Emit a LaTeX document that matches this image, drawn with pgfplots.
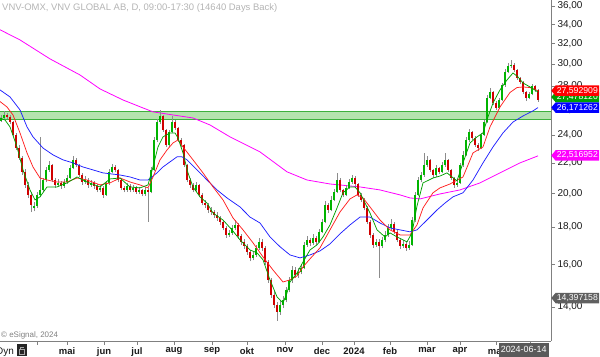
\documentclass[border=0pt]{standalone}
\usepackage{fontspec}
\setmainfont{Liberation Sans}
\usepackage{pgfplots}
\pgfplotsset{compat=1.18}
\usetikzlibrary{shapes.symbols}

\definecolor{cup}{HTML}{00B400}
\definecolor{cdown}{HTML}{D00000}
\definecolor{wick}{HTML}{8C8C8C}
\definecolor{magr}{HTML}{00A000}
\definecolor{mared}{HTML}{FF2020}
\definecolor{mablue}{HTML}{2020FF}
\definecolor{mamag}{HTML}{FF00FF}
\definecolor{bandfill}{HTML}{B5E3AE}
\definecolor{bandline}{HTML}{3DB03D}
\definecolor{axgray}{HTML}{808080}
\definecolor{tickcol}{HTML}{1A1A1A}
\definecolor{titlegray}{HTML}{B4B4B4}
\definecolor{datebox}{HTML}{5A5A5A}
\definecolor{tagred}{HTML}{FF0000}
\definecolor{tagblue}{HTML}{0000FF}
\definecolor{tagmag}{HTML}{FF00FF}
\definecolor{taggray}{HTML}{606060}
\definecolor{taggreen}{HTML}{00A000}

% x (chart position) / open / high / low / close
\def\candledata{%
1/25.10/25.55/25.00/25.33,4/25.33/25.85/25.20/25.57,7/25.57/25.70/25.25/25.41,10/25.41/25.55/24.85/25.01,
13/25.01/25.10/23.90/24.02,16/24.02/24.15/22.90/23.05,19/23.05/23.30/22.20/22.35,22/22.35/22.50/21.20/21.39,
25/21.39/21.60/20.35/20.53,28/20.53/20.70/19.70/19.90,31/19.90/20.05/18.85/19.28,34/19.10/19.45/18.90/19.22,
37/19.22/20.10/19.10/19.90,40/19.90/23.85/19.75/20.21,43/20.21/21.00/20.05/20.85,46/20.85/21.70/20.70/21.52,
49/21.52/22.15/21.40/21.86,52/21.86/21.95/20.70/20.85,55/20.85/21.00/20.35/20.53,58/20.53/20.90/20.40/20.66,
61/20.66/20.80/20.30/20.47,64/20.47/20.90/20.35/20.72,67/20.72/21.15/20.60/20.98,70/20.98/21.85/20.90/21.66,
73/21.66/22.45/21.55/22.21,76/22.21/22.35/21.70/21.86,79/21.86/21.95/21.05/21.18,82/21.18/21.30/20.55/20.72,
85/20.72/21.10/20.60/20.85,88/20.85/20.95/20.35/20.53,91/20.53/20.85/20.40/20.66,94/20.66/20.80/20.30/20.47,
97/20.47/20.60/20.05/20.21,100/20.21/20.55/20.05/20.34,103/20.34/20.45/19.70/19.90,106/19.90/20.80/19.85/20.66,
109/20.66/21.55/20.55/21.39,112/21.39/21.95/21.30/21.72,115/21.72/21.85/21.35/21.52,118/21.52/21.60/20.70/20.85,
121/20.85/20.95/20.20/20.34,124/20.34/20.45/20.05/20.21,127/20.21/20.65/20.10/20.47,130/20.47/20.60/20.05/20.21,
133/20.21/20.55/20.10/20.34,136/20.34/20.45/19.95/20.09,139/20.09/20.40/19.95/20.21,142/20.21/20.30/19.80/19.96,
145/19.96/20.40/19.85/20.21,148/20.21/20.35/18.28/20.09,151/20.09/21.70/20.00/21.52,154/21.52/23.85/21.45/23.64,
157/23.64/25.25/23.50/25.01,160/25.01/25.95/24.85/25.49,163/25.49/25.60/24.25/24.40,166/24.40/24.50/23.10/23.27,
169/23.27/24.40/23.15/24.25,172/24.25/25.45/24.15/25.01,175/25.01/25.20/24.40/24.55,178/24.55/24.65/23.50/23.64,
181/23.64/23.80/23.10/23.27,184/23.27/23.35/21.70/21.86,187/21.86/21.95/20.70/20.85,190/20.85/21.00/20.35/20.53,
193/20.53/20.65/20.05/20.21,196/20.21/20.70/20.10/20.53,199/20.53/20.60/19.75/19.90,202/19.90/20.00/19.25/19.40,
205/19.40/19.60/19.10/19.28,208/19.28/19.40/18.80/18.98,211/18.98/19.15/18.70/18.86,214/18.86/19.00/18.50/18.68,
217/18.68/18.85/18.35/18.51,220/18.51/18.60/18.10/18.28,223/18.28/18.40/17.80/17.94,226/17.94/18.05/17.40/17.55,
229/17.55/17.85/17.45/17.66,232/17.66/18.10/17.55/17.94,235/17.94/18.40/17.85/18.11,238/18.11/18.20/17.35/17.50,
241/17.50/17.60/17.00/17.17,244/17.17/17.30/16.80/16.96,247/16.96/17.05/16.50/16.64,250/16.64/16.75/16.15/16.33,
253/16.33/16.65/16.20/16.48,256/16.48/17.00/16.40/16.85,259/16.85/17.40/16.75/17.17,262/17.17/17.30/16.70/16.85,
265/16.85/16.95/15.95/16.12,268/16.12/16.20/15.10/15.24,271/15.24/15.35/14.40/14.54,274/14.54/14.70/13.95/14.09,
277/14.09/14.20/13.40/13.78,280/13.78/14.25/13.65/14.09,283/14.09/14.50/13.95/14.31,286/14.31/14.90/14.20/14.77,
289/14.77/15.40/14.65/15.24,292/15.24/15.90/15.10/15.72,295/15.72/15.85/15.35/15.48,298/15.48/15.80/15.35/15.62,
301/15.62/16.00/15.50/15.82,304/15.82/17.15/15.75/17.01,307/17.01/17.50/16.90/17.28,310/17.28/17.40/16.95/17.12,
313/17.12/17.60/17.00/17.39,316/17.39/17.50/17.00/17.17,319/17.17/17.90/17.10/17.72,322/17.72/18.45/17.65/18.28,
325/18.28/19.50/18.20/19.28,328/19.28/19.40/18.80/18.98,331/18.98/19.80/18.90/19.59,334/19.59/20.30/19.50/20.09,
337/20.09/21.30/20.00/20.85,340/20.85/20.95/20.05/20.21,343/20.21/20.30/19.75/19.90,346/19.90/20.50/19.80/20.34,
349/20.34/20.90/20.25/20.72,352/20.72/21.20/20.60/20.98,355/20.98/21.10/20.45/20.59,358/20.59/20.65/19.75/19.90,
361/19.90/20.00/19.45/19.59,364/19.59/19.70/18.95/19.10,367/19.10/19.20/18.15/18.28,370/18.28/18.40/17.40/17.55,
373/17.55/17.65/16.85/17.01,376/17.01/17.35/16.90/17.17,379/17.17/17.30/15.33/16.96,382/16.96/17.45/16.85/17.28,
385/17.28/17.75/17.15/17.55,388/17.55/18.15/17.45/17.94,391/17.94/18.45/17.85/18.17,394/18.17/18.25/17.60/17.72,
397/17.72/17.80/17.15/17.28,400/17.28/17.40/16.80/16.96,403/16.96/17.25/16.85/17.06,406/17.06/17.15/16.70/16.85,
409/16.85/17.20/16.75/17.01,412/17.01/18.55/16.95/18.39,415/18.39/20.10/18.30/19.90,418/19.90/21.05/19.80/20.85,
421/20.85/21.40/20.70/21.18,424/21.18/22.70/21.05/21.86,427/21.86/22.45/21.70/22.21,430/22.21/22.30/21.40/21.52,
433/21.52/21.60/21.00/21.18,436/21.18/21.85/21.05/21.66,439/21.66/21.75/21.25/21.39,442/21.39/22.05/21.30/21.86,
445/21.86/22.70/21.75/22.21,448/22.21/22.30/21.40/21.52,451/21.52/21.60/20.85/20.98,454/20.98/21.05/20.35/20.53,
457/20.53/20.90/20.40/20.66,460/20.66/22.00/20.60/21.86,463/21.86/22.80/21.75/22.56,466/22.56/23.85/22.45/23.64,
469/23.64/24.50/23.50/24.25,472/24.25/24.35/23.65/23.79,475/23.79/23.90/23.15/23.27,478/23.27/23.40/22.85/23.05,
481/23.05/24.20/22.95/24.02,484/24.02/25.20/23.90/25.01,487/25.01/27.20/24.95/26.97,490/26.97/27.80/26.85/27.48,
493/27.48/27.60/26.40/26.55,496/26.55/26.70/25.95/26.14,499/26.14/27.00/26.05/26.80,502/26.80/28.30/26.70/28.09,
505/28.09/29.50/27.95/29.26,508/29.26/30.10/29.15/29.83,511/29.83/30.40/29.60/29.92,514/29.92/30.10/29.30/29.45,
517/29.45/29.55/28.55/28.72,520/28.72/28.85/28.20/28.36,523/28.36/28.45/27.30/27.48,526/27.48/27.60/26.70/26.97,
529/26.97/27.50/26.85/27.31,532/27.31/28.20/27.20/28.00,535/28.00/28.10/27.50/27.66,538/27.66/27.75/26.65/26.80}

\gdef\wicks{}\gdef\ups{}\gdef\downs{}
\foreach \xx/\oo/\hh/\lw/\cc in \candledata {%
  \xdef\wicks{\wicks (\xx,\lw) (\xx,\hh) (\xx,nan)}%
  \ifdim\cc pt>\oo pt
    \xdef\ups{\ups (\xx,\oo) (\xx,\cc) (\xx,nan)}%
  \else
    \xdef\downs{\downs (\xx,\oo) (\xx,\cc) (\xx,nan)}%
  \fi
}

\begin{document}
\begin{tikzpicture}[
  tag/.style={signal, signal to=west, signal pointer angle=100, fill=#1, text=white,
    inner xsep=1.2bp, inner ysep=0.6bp, minimum height=10.5bp, anchor=west,
    font=\fontsize{8.7}{9.5}\selectfont}]
\useasboundingbox (0,0) rectangle (600bp,357bp);
\begin{axis}[
  at={(0,16bp)}, anchor=south west,
  scale only axis, width=551bp, height=341bp,
  xmin=0, xmax=551,
  ymode=log, ymin=12.58, ymax=36.68,
  axis x line*=bottom, axis y line*=right,
  axis line style={draw=axgray, line width=0.8pt},
  ytick={14,16,18,20,22,24,26,28,30,32,34,36},
  yticklabels={{14,00},{16,00},{18,00},{20,00},{22,00},{24,00},{26,00},{28,00},{30,00},{32,00},{34,00},{36,00}},
  yminorticks=false,
  xtick={37,67,104,137,174,212,247,285,322,354,390,427,460,496,530},
  xticklabels={,mai,jun,jul,aug,sep,okt,nov,dec,2024,feb,mar,apr,maj,},
  tick align=outside, major tick length=4bp,
  tick style={draw=axgray, line width=0.6pt},
  /pgf/number format/assume math mode=true,
  yticklabel style={font=\fontsize{10}{11}\selectfont, text=tickcol, xshift=-1bp},
  xticklabel style={font=\bfseries\fontsize{9.5}{10}\selectfont, text=tickcol, yshift=1bp},
]
% resistance band
\addplot[fill=bandfill, draw=none, forget plot] coordinates {(0,25.18) (551,25.18) (551,25.84) (0,25.84)};
\addplot[bandline, line width=0.9pt] coordinates {(0,25.84) (551,25.84)};
\addplot[bandline, line width=0.9pt] coordinates {(0,25.18) (551,25.18)};
% 200-day average
\addplot[mamag, line width=0.8pt] coordinates {
(0,33.41) (20,32.36) (50,30.49) (80,28.99) (100,27.75) (123,26.80) (143,26.14) (153,25.82)
(173,25.57) (193,25.33) (210,24.78) (230,23.87) (260,22.77) (287,21.39) (307,20.85) (330,20.59)
(360,20.40) (380,20.21) (400,19.90) (410,19.71) (420,19.65) (440,19.96) (460,20.21) (480,20.66)
(500,21.32) (520,22.00) (538,22.49)};
% candles
\edef\tmp{\noexpand\addplot[draw=wick, line width=0.7pt, unbounded coords=jump] coordinates {\wicks};}\tmp
\edef\tmp{\noexpand\addplot[draw=cup, line width=1.9pt, unbounded coords=jump] coordinates {\ups};}\tmp
\edef\tmp{\noexpand\addplot[draw=cdown, line width=1.9pt, unbounded coords=jump] coordinates {\downs};}\tmp
% slow average (blue)
\addplot[mablue, line width=0.75pt] coordinates {
(0,27.66) (10,27.06) (20,25.98) (27,24.63) (33,23.87) (43,23.05) (53,22.56) (63,22.21) (73,22.00)
(83,21.72) (93,21.52) (103,21.32) (120,21.18) (130,21.05) (140,20.85) (148,20.85) (157,21.32)
(163,21.72) (170,22.07) (177,22.42) (182,22.42) (187,22.21) (197,21.52) (207,20.85) (217,20.21)
(227,19.71) (240,19.16) (250,18.56) (260,18.22) (270,17.44) (280,16.91) (290,16.48) (300,16.33)
(310,16.48) (320,16.69) (330,17.06) (340,17.61) (350,18.11) (360,18.56) (370,18.56) (380,18.22)
(390,17.94) (400,17.83) (410,17.72) (417,17.83) (427,18.39) (437,18.98) (445,19.40) (453,19.78)
(463,20.03) (473,20.85) (483,22.00) (493,23.13) (503,24.17) (513,25.01) (523,25.49) (533,25.90)
(538,26.17)};
% medium average (red)
\addplot[mared, line width=0.75pt] coordinates {
(0,26.67) (7,26.22) (13,25.57) (20,24.17) (27,22.70) (33,21.72) (40,20.98) (47,20.85) (57,20.72)
(67,20.72) (77,20.98) (87,20.85) (100,20.53) (110,20.66) (120,20.98) (130,20.72) (140,20.53)
(148,20.34) (153,21.05) (160,22.21) (167,22.91) (173,23.42) (178,23.64) (183,23.13) (193,22.21)
(203,21.32) (213,20.40) (223,19.59) (233,18.51) (243,17.83) (253,17.12) (263,16.38) (273,15.72)
(283,15.14) (290,15.24) (297,15.43) (303,15.87) (310,16.28) (320,16.85) (330,17.83) (340,18.86)
(350,19.65) (357,19.90) (363,19.71) (370,19.16) (380,18.39) (390,17.83) (400,17.55) (410,17.55)
(417,18.11) (423,19.10) (433,20.03) (440,20.34) (450,20.59) (463,21.05) (473,22.70) (483,23.13)
(490,24.63) (500,26.22) (510,27.44) (517,27.87) (523,27.92) (530,27.87) (538,27.59)};
% fast average (green)
\addplot[magr, line width=0.75pt] coordinates {
(0,25.33) (5,25.17) (10,24.63) (17,23.13) (23,21.52) (30,20.21) (35,19.59) (40,19.78) (47,20.40)
(57,20.40) (67,20.66) (77,21.05) (87,20.72) (100,20.40) (110,20.92) (120,20.98) (130,20.40)
(140,20.34) (148,20.53) (153,21.72) (158,23.13) (163,23.87) (170,24.17) (175,24.17) (178,23.79)
(183,22.70) (188,21.32) (193,20.40) (200,19.78) (207,19.40) (213,18.80) (223,18.39) (232,17.83)
(240,17.28) (250,16.74) (257,16.59) (263,16.23) (270,15.24) (277,14.45) (283,14.18) (287,14.63)
(290,15.14) (297,15.57) (303,16.12) (310,16.74) (317,17.01) (323,17.44) (330,18.11) (337,19.10)
(343,20.03) (350,20.40) (355,20.40) (360,20.03) (370,18.80) (377,17.83) (385,17.44) (390,17.66)
(397,17.44) (407,17.17) (412,17.66) (417,19.22) (423,20.66) (433,20.98) (440,21.11) (447,21.32)
(457,20.79) (463,22.00) (470,23.42) (477,23.87) (483,24.17) (488,25.41) (493,26.55) (500,27.66)
(507,28.54) (513,29.17) (518,28.81) (523,28.27) (530,27.92) (538,27.48)};
% texts in the plot area
\node[anchor=north west, inner sep=0, xshift=2bp, yshift=-3bp, text=titlegray,
  font=\fontsize{9.5}{11}\selectfont] at (rel axis cs:0,1)
  {VNV-OMX, VNV GLOBAL AB, D, 09:00-17:30 (14640 Days Back)};
\node[anchor=south west, inner sep=0, xshift=1bp, yshift=2bp, text=axgray,
  font=\fontsize{8}{9}\selectfont] at (rel axis cs:0,0) {© eSignal, 2024};
\coordinate (tR) at (axis cs:551,27.592909);
\coordinate (tB) at (axis cs:551,26.171262);
\coordinate (tM) at (axis cs:551,22.516952);
\coordinate (tG) at (axis cs:551,14.397158);
\coordinate (tL) at (axis cs:551,27.05);
\end{axis}
\node[tag=taggreen] at (tL) {27,478120};
\node[tag=tagred] at (tR) {27,592909};
\node[tag=tagblue] at (tB) {26,171262};
\node[tag=tagmag] at (tM) {22,516952};
\node[tag=taggray] at (tG) {14,397158};
% bottom-left controls and date box
\node[anchor=base west, inner sep=0, text=tickcol, font=\fontsize{10}{11}\selectfont] at (-4bp,3bp) {Dyn};
\fill[black!85] (17bp,1bp) rectangle (27bp,13bp);
\draw[gray!70, line width=0.8pt] (19.5bp,3bp) rectangle (24.5bp,7.5bp);
\draw[gray!70, line width=0.8pt] (20.5bp,7.5bp) -- (20.5bp,10bp) -- (23.5bp,10bp);
\node[fill=datebox, text=white, anchor=south west, minimum width=50bp, minimum height=14bp,
  inner sep=0, font=\fontsize{9}{10}\selectfont] at (498.5bp,0) {2024-06-14};
\end{tikzpicture}
\end{document}
